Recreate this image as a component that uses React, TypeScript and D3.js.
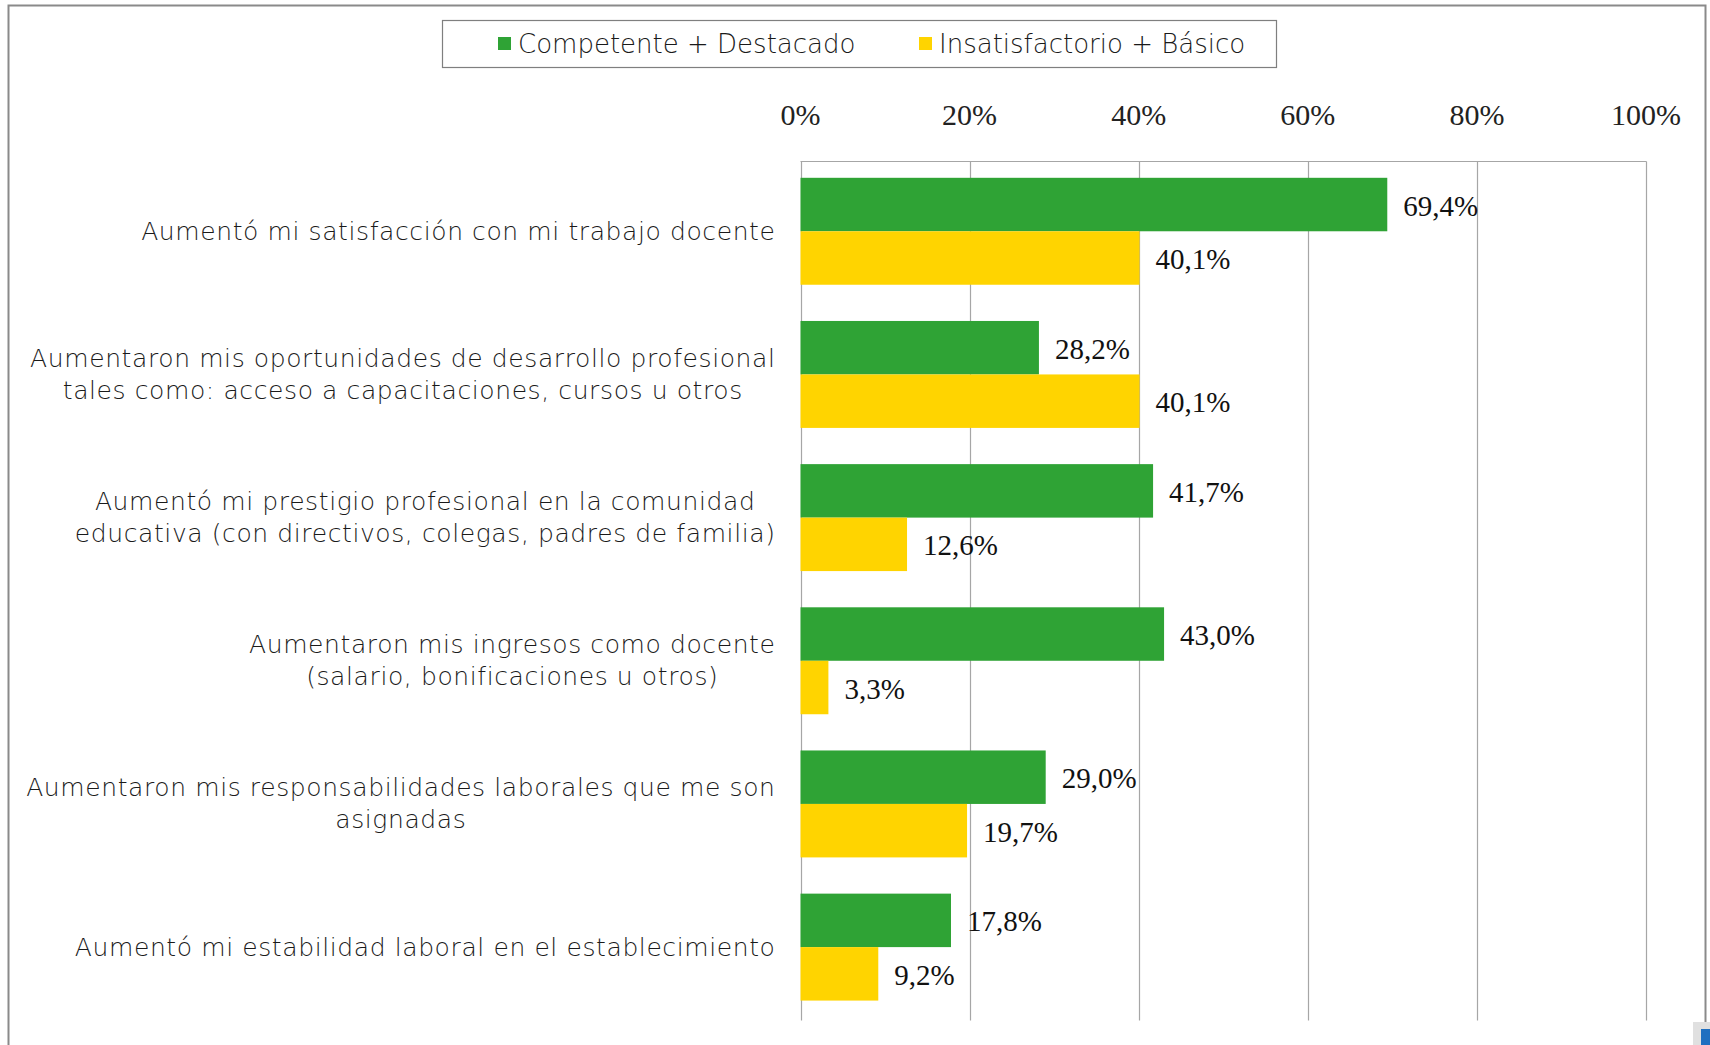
import { useEffect, useRef } from 'react';
import * as d3 from 'd3';

const categories = [
  ['Aumentó mi satisfacción con mi trabajo docente'],
  ['Aumentaron mis oportunidades de desarrollo profesional', 'tales como: acceso a capacitaciones, cursos u otros'],
  ['Aumentó mi prestigio profesional en la comunidad', 'educativa (con directivos, colegas, padres de familia)'],
  ['Aumentaron mis ingresos como docente', '(salario, bonificaciones u otros)'],
  ['Aumentaron mis responsabilidades laborales que me son', 'asignadas'],
  ['Aumentó mi estabilidad laboral en el establecimiento'],
];
const competente = [69.4, 28.2, 41.7, 43.0, 29.0, 17.8];
const insatisfactorio = [40.1, 40.1, 12.6, 3.3, 19.7, 9.2];
const seriesNames = ['Competente + Destacado', 'Insatisfactorio + Básico'];
const seriesColors = ['#2fa335', '#ffd400'];
const ticks = [0, 20, 40, 60, 80, 100];

const W = 1710;
const H = 1045;
const labelFont = '"DejaVu Sans", Lato, sans-serif';
const numFont = '"Liberation Serif", "DejaVu Serif", serif';

export default function App() {
  const svgRef = useRef<SVGSVGElement | null>(null);

  useEffect(() => {
    const svg = d3.select(svgRef.current);
    svg.selectAll('*').remove();

    const plot = { left: 800.5, right: 1646, top: 161.5, bottom: 1020.5 };

    // outer frame
    svg.append('rect')
      .attr('x', 8.5).attr('y', 5.5)
      .attr('width', 1697).attr('height', H + 20)
      .attr('fill', '#fff').attr('stroke', '#8a8a8a').attr('stroke-width', 2);

    const x = d3.scaleLinear().domain([0, 100]).range([plot.left, plot.right]);
    const y = d3.scaleBand<number>()
      .domain(d3.range(categories.length))
      .range([plot.top, plot.bottom])
      .paddingInner(0.253)
      .paddingOuter(0.1265)
      .align(0.45);
    const sub = d3.scaleBand<number>().domain([0, 1]).range([0, y.bandwidth()]);

    // grid
    svg.append('g').selectAll('line')
      .data(ticks)
      .join('line')
      .attr('x1', d => Math.round(x(d)) + 0.5).attr('x2', d => Math.round(x(d)) + 0.5)
      .attr('y1', plot.top).attr('y2', plot.bottom)
      .attr('stroke', '#a6a6a6').attr('stroke-width', 1.2);
    svg.append('line')
      .attr('x1', plot.left).attr('x2', Math.round(x(100)) + 0.5)
      .attr('y1', plot.top).attr('y2', plot.top)
      .attr('stroke', '#a6a6a6').attr('stroke-width', 1.2);

    // tick labels
    svg.append('g').selectAll('text')
      .data(ticks)
      .join('text')
      .attr('x', d => x(d))
      .attr('y', 114)
      .attr('text-anchor', 'middle')
      .attr('dominant-baseline', 'central')
      .attr('font-family', numFont)
      .attr('font-size', 30)
      .attr('fill', '#222')
      .text(d => `${d}%`);

    // bars
    const series = [competente, insatisfactorio];
    series.forEach((vals, si) => {
      const g = svg.append('g');
      g.selectAll('rect')
        .data(vals)
        .join('rect')
        .attr('x', x(0))
        .attr('y', (_, i) => (y(i) as number) + (sub(si) as number))
        .attr('width', d => x(d) - x(0))
        .attr('height', sub.bandwidth())
        .attr('fill', seriesColors[si]);
      g.selectAll('text')
        .data(vals)
        .join('text')
        .attr('x', d => x(d) + 16)
        .attr('y', (_, i) => (y(i) as number) + (sub(si) as number) + sub.bandwidth() / 2 + 1)
        .attr('dominant-baseline', 'central')
        .attr('font-family', numFont)
        .attr('font-size', 29)
        .attr('fill', '#111')
        .text(d => `${d.toFixed(1).replace('.', ',')}%`);
    });

    // category labels: centered lines, block right-aligned
    const labelRight = 775.5;
    const lineH = 32;
    categories.forEach((lines, i) => {
      const cy = (y(i) as number) + y.bandwidth() / 2;
      const g = svg.append('g');
      const texts = g.selectAll('text')
        .data(lines)
        .join('text')
        .attr('y', (_, j) => cy + (j - (lines.length - 1) / 2) * lineH)
        .attr('text-anchor', 'middle')
        .attr('dominant-baseline', 'central')
        .attr('font-family', labelFont)
        .attr('font-weight', 200)
        .attr('font-size', 25)
        .attr('letter-spacing', 0.6)
        .attr('fill', '#1a1a1a')
        .text(d => d);
      let maxW = 0;
      texts.each(function () {
        maxW = Math.max(maxW, (this as SVGTextElement).getComputedTextLength());
      });
      texts.attr('x', labelRight - maxW / 2);
    });

    // legend
    const legend = svg.append('g');
    legend.append('rect')
      .attr('x', 442.5).attr('y', 20.5)
      .attr('width', 834).attr('height', 47)
      .attr('fill', '#fff').attr('stroke', '#7f7f7f').attr('stroke-width', 1.2);
    const legendX = [498, 919];
    seriesNames.forEach((name, si) => {
      legend.append('rect')
        .attr('x', legendX[si]).attr('y', 37)
        .attr('width', 13).attr('height', 13)
        .attr('fill', seriesColors[si]);
      legend.append('text')
        .attr('x', legendX[si] + 20).attr('y', 44)
        .attr('dominant-baseline', 'central')
        .attr('font-family', labelFont)
        .attr('font-weight', 200)
        .attr('font-size', 26)
        .attr('fill', '#1a1a1a')
        .text(name);
    });

    // corner widget
    svg.append('rect').attr('x', 1693).attr('y', 1022).attr('width', 17).attr('height', 23).attr('fill', '#e0e0e0');
    svg.append('rect').attr('x', 1701).attr('y', 1029).attr('width', 9).attr('height', 16).attr('fill', '#1f6fc0');
  }, []);

  return (
    <svg
      ref={svgRef}
      width={W}
      height={H}
      style={{ position: 'absolute', left: 0, top: 0, background: '#fff' }}
    />
  );
}
